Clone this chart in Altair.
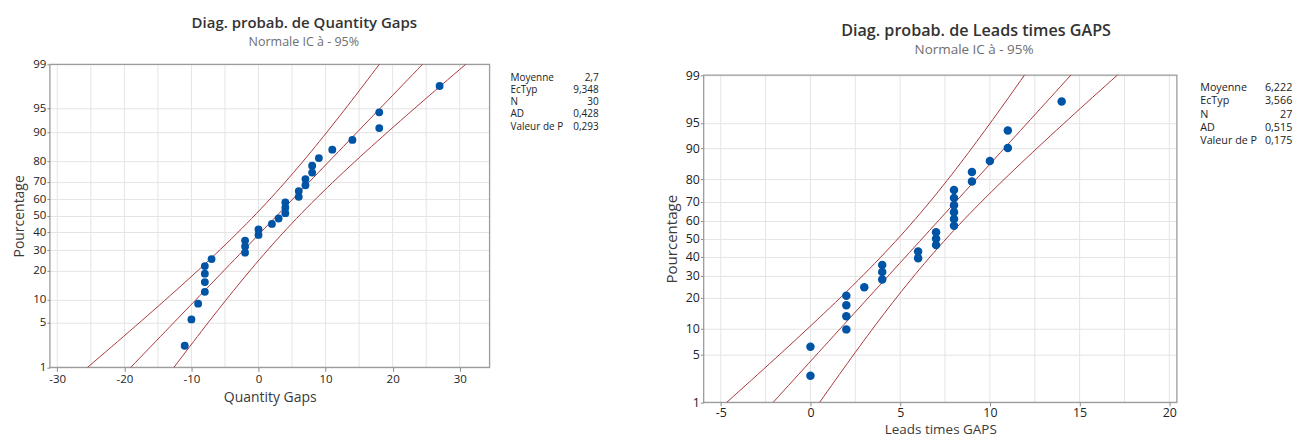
import altair as alt
import numpy as np
import pandas as pd
from statistics import NormalDist

# ---------------- data ----------------
qty_values = [-11, -10, -9, -8, -8, -8, -8, -7, -2, -2, -2, 0, 0, 2, 3,
              4, 4, 4, 6, 6, 7, 7, 8, 8, 9, 11, 14, 18, 18, 27]
qty_mean = 2.7
qty_sd = 9.348
qty_stat_labels = ["Moyenne", "EcTyp", "N", "AD", "Valeur de P"]
qty_stat_values = ["2,7", "9,348", "30", "0,428", "0,293"]
qty_x_ticks = [-30, -20, -10, 0, 10, 20, 30]
qty_x_grid = [-30, -25, -20, -15, -10, -5, 0, 5, 10, 15, 20, 25, 30]
qty_x_domain = [-31.1, 34.45]

lead_values = [0, 0, 2, 2, 2, 2, 3, 4, 4, 4, 6, 6, 7, 7, 7,
               8, 8, 8, 8, 8, 8, 9, 9, 10, 11, 11, 14]
lead_mean = 6.222
lead_sd = 3.566
lead_stat_labels = ["Moyenne", "EcTyp", "N", "AD", "Valeur de P"]
lead_stat_values = ["6,222", "3,566", "27", "0,515", "0,175"]
lead_x_ticks = [-5, 0, 5, 10, 15, 20]
lead_x_grid = [-5, -2.5, 0, 2.5, 5, 7.5, 10, 12.5, 15, 17.5, 20]
lead_x_domain = [-5.95, 20.42]

pct_ticks = [1, 5, 10, 20, 30, 40, 50, 60, 70, 80, 90, 95, 99]

# ---------------- helpers ----------------
ND = NormalDist()
Z01 = ND.inv_cdf(0.01)
Z99 = ND.inv_cdf(0.99)
ZQ = ND.inv_cdf(0.975)
pct_z = [ND.inv_cdf(p / 100.0) for p in pct_ticks]

FONT = "Open Sans"
LINE_COLOR = "#a8383b"
PT_COLOR = "#0054a6"
GRID_COLOR = "#e4e4e4"
FRAME_COLOR = "#9c9c9c"


def panel(values, mean, sd, x_domain, x_ticks, x_grid, width, height, top_gap,
          title, subtitle, xtitle, stat_labels, stat_values, k,
          title_pos, sub_pos, stat_pos, x_title_pad, y_title_y,
          x_title_size, x_label_pad, x_tick):
    n = len(values)
    frame_h = height - top_gap
    ztop = Z99 + top_gap * (Z99 - Z01) / frame_h
    xs = sorted(values)
    pts = pd.DataFrame({
        "x": xs,
        "z": [ND.inv_cdf((i - 0.3) / (n + 0.4)) for i in range(1, n + 1)],
    })
    zs = np.linspace(Z01, Z99, 60)
    rows = []
    for z in zs:
        fit = mean + sd * z
        se = sd * np.sqrt((1 + z * z / 2.0) / n)
        rows.append(("fit", z, fit))
        rows.append(("lo", z, fit - ZQ * se))
        rows.append(("hi", z, fit + ZQ * se))
    lines = pd.DataFrame(rows, columns=["s", "z", "x"])
    grid = pd.DataFrame({"x": x_grid, "zlo": Z01, "zhi": Z99})
    frame = pd.DataFrame({"zlo": [Z01], "zhi": [Z99]})

    xscale = alt.Scale(domain=x_domain, nice=False, zero=False)
    yscale = alt.Scale(domain=[Z01, ztop], nice=False, zero=False)
    xaxis = alt.Axis(values=x_ticks, labelExpr="datum.value + ''", title=xtitle,
                     grid=False, domain=False, tickSize=x_tick, tickColor="#8a8a8a",
                     labelFontSize=11.5 * k, labelColor="#222222", labelPadding=x_label_pad,
                     titleFontSize=x_title_size, titleFontWeight="normal", titleColor="#3a3a3a",
                     titlePadding=x_title_pad, labelFlush=False, labelOverlap=False)
    yaxis = alt.Axis(values=pct_z, labelExpr="round(cumulativeNormal(datum.value)*100)",
                     title="Pourcentage", grid=True, gridColor=GRID_COLOR, domain=False,
                     tickSize=3 * k, tickColor="#8a8a8a", labelFontSize=11.5 * k,
                     labelColor="#222222", labelPadding=1, titleFontSize=14 * k,
                     titleFontWeight="normal", titleColor="#3a3a3a", titlePadding=6,
                     titleY=y_title_y, labelOverlap=False, labelFlush=False)

    vgrid = alt.Chart(grid).mark_rule(color=GRID_COLOR, strokeWidth=1).encode(
        x=alt.X("x:Q", scale=xscale, axis=xaxis),
        y=alt.Y("zlo:Q", scale=yscale, axis=yaxis),
        y2="zhi:Q",
    )
    box = alt.Chart(frame).mark_rect(fillOpacity=0, stroke=FRAME_COLOR, strokeWidth=1.3).encode(
        x=alt.value(0), x2=alt.value(width),
        y=alt.Y("zlo:Q", scale=yscale, axis=yaxis),
        y2="zhi:Q",
    )
    fitlines = alt.Chart(lines).mark_line(color=LINE_COLOR, strokeWidth=1).encode(
        x=alt.X("x:Q", scale=xscale, axis=xaxis),
        y=alt.Y("z:Q", scale=yscale, axis=yaxis),
        detail="s:N",
        order="z:Q",
    )
    points = alt.Chart(pts).mark_circle(size=62 * k * k, color=PT_COLOR, opacity=1).encode(
        x=alt.X("x:Q", scale=xscale, axis=xaxis),
        y=alt.Y("z:Q", scale=yscale, axis=yaxis),
    )
    txt = pd.DataFrame({
        "t": [title], "st": [subtitle],
        "lab": ["\n".join(stat_labels)], "val": ["\n".join(stat_values)],
    })
    t1 = alt.Chart(txt).mark_text(font=FONT, fontSize=15 * k, fontWeight=600,
                                  color="#333333", align="center", baseline="alphabetic").encode(
        x=alt.value(title_pos[0]), y=alt.value(title_pos[1]), text="t:N")
    t2 = alt.Chart(txt).mark_text(font=FONT, fontSize=12.5 * k, color="#6e6e6e",
                                  align="center", baseline="alphabetic").encode(
        x=alt.value(sub_pos[0]), y=alt.value(sub_pos[1]), text="st:N")
    s1 = alt.Chart(txt).mark_text(font=FONT, fontSize=10 * k, color="#222222", align="left",
                                  baseline="alphabetic", lineBreak="\n", lineHeight=12.2 * k).encode(
        x=alt.value(stat_pos[0]), y=alt.value(stat_pos[2]), text="lab:N")
    s2 = alt.Chart(txt).mark_text(font=FONT, fontSize=10 * k, color="#222222", align="right",
                                  baseline="alphabetic", lineBreak="\n", lineHeight=12.2 * k).encode(
        x=alt.value(stat_pos[1]), y=alt.value(stat_pos[2]), text="val:N")

    return alt.layer(vgrid, box, fitlines, points, t1, t2, s1, s2).properties(
        width=width, height=height)


left = panel(qty_values, qty_mean, qty_sd, qty_x_domain, qty_x_ticks, qty_x_grid,
             440.7, 303.7, 0.0,
             "Diag. probab. de Quantity Gaps", "Normale IC à - 95%", "Quantity Gaps",
             qty_stat_labels, qty_stat_values, 1.0,
             (255, -36.3), (254.5, -18.5), (461.7, 550, 16.5), 6, 151.85,
             14, 2, 4)

right = panel(lead_values, lead_mean, lead_sd, lead_x_domain, lead_x_ticks, lead_x_grid,
              474.3, 338.7, 10.7,
              "Diag. probab. de Leads times GAPS", "Normale IC à - 95%", "Leads times GAPS",
              lead_stat_labels, lead_stat_values, 1.079,
              (273, -28), (271, -10.3), (497.7, 590, 27), 3, 174.7,
              13.5, 1, 3.5)

chart = alt.hconcat(left, right, spacing=214.3, bounds="flush").properties(
    padding={"left": 4, "top": 7, "right": 0, "bottom": 0}
).configure(font=FONT).configure_view(stroke=None)

chart.save("out.html", embed_options={"renderer": "svg", "actions": False})
